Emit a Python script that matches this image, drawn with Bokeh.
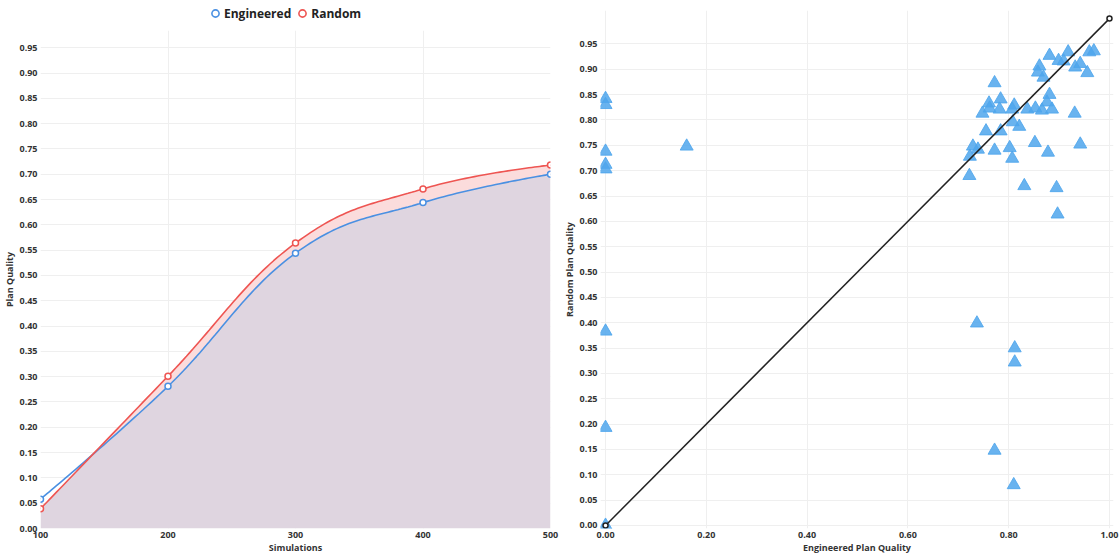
import numpy as np
from bokeh.plotting import figure
from bokeh.layouts import row, column
from bokeh.models import Legend, LegendItem, FixedTicker, NumeralTickFormatter, Range1d
from bokeh.embed import file_html
from bokeh.resources import INLINE

# ---- data ----
simulations = [100, 200, 300, 400, 500]
engineered = [0.058, 0.281, 0.544, 0.644, 0.700]
random_q = [0.039, 0.301, 0.564, 0.671, 0.718]

scatter_eng = [0.0, 0.0, 0.0, 0.0, 0.0, 0.0, 0.0, 0.0, 0.161,
               0.881, 0.918, 0.899, 0.909, 0.960, 0.969, 0.861, 0.858, 0.869,
               0.932, 0.942, 0.956, 0.772, 0.881, 0.784, 0.761, 0.876, 0.762,
               0.748, 0.782, 0.811, 0.807, 0.837, 0.853, 0.866, 0.886, 0.931,
               0.808, 0.821, 0.755, 0.784, 0.852, 0.942, 0.729, 0.739, 0.772,
               0.802, 0.878, 0.723, 0.807, 0.722, 0.831, 0.895, 0.897, 0.737,
               0.812, 0.812, 0.772, 0.810]
scatter_rand = [0.842, 0.830, 0.738, 0.712, 0.703, 0.383, 0.193, 0.000, 0.748,
                0.927, 0.934, 0.917, 0.916, 0.934, 0.936, 0.906, 0.894, 0.884,
                0.904, 0.911, 0.893, 0.873, 0.850, 0.841, 0.833, 0.835, 0.823,
                0.813, 0.821, 0.829, 0.821, 0.821, 0.823, 0.819, 0.821, 0.813,
                0.796, 0.787, 0.778, 0.778, 0.755, 0.752, 0.748, 0.742, 0.740,
                0.745, 0.736, 0.728, 0.724, 0.690, 0.670, 0.666, 0.614, 0.399,
                0.350, 0.322, 0.148, 0.080]
diag_x = [0.0, 1.0]
diag_y = [0.0, 1.0]

BLUE = "#4a90e2"
RED = "#ee5552"
TRI = "#4fa6ec"
FONT = "Open Sans"


def hc_spline(xs, ys, n=40):
    s = 1.5
    d = s + 1
    k = len(xs)
    lc = [(xs[i], ys[i]) for i in range(k)]
    rc = [(xs[i], ys[i]) for i in range(k)]
    for i in range(1, k - 1):
        lcx = (s * xs[i] + xs[i - 1]) / d
        lcy = (s * ys[i] + ys[i - 1]) / d
        rcx = (s * xs[i] + xs[i + 1]) / d
        rcy = (s * ys[i] + ys[i + 1]) / d
        if rcx != lcx:
            corr = (rcy - lcy) * (rcx - xs[i]) / (rcx - lcx) + ys[i] - rcy
            lcy += corr
            rcy += corr
        lc[i] = (lcx, lcy)
        rc[i] = (rcx, rcy)
    ox, oy = [], []
    t = np.linspace(0, 1, n)
    for i in range(k - 1):
        p0 = (xs[i], ys[i]); p1 = rc[i]; p2 = lc[i + 1]; p3 = (xs[i + 1], ys[i + 1])
        bx = (1 - t) ** 3 * p0[0] + 3 * (1 - t) ** 2 * t * p1[0] + 3 * (1 - t) * t ** 2 * p2[0] + t ** 3 * p3[0]
        by = (1 - t) ** 3 * p0[1] + 3 * (1 - t) ** 2 * t * p1[1] + 3 * (1 - t) * t ** 2 * p2[1] + t ** 3 * p3[1]
        if i > 0:
            bx = bx[1:]; by = by[1:]
        ox.extend(bx); oy.extend(by)
    return np.array(ox), np.array(oy)


def style(p):
    p.outline_line_color = None
    p.background_fill_color = "white"
    for ax in p.axis:
        ax.axis_line_color = None
        ax.major_tick_line_color = None
        ax.minor_tick_line_color = None
        ax.major_tick_out = 0
        ax.major_tick_in = 0
        ax.minor_tick_out = 0
        ax.minor_tick_in = 0
        ax.major_label_text_font = FONT
        ax.major_label_text_font_style = "bold"
        ax.major_label_text_font_size = "9px"
        ax.major_label_text_color = "#333333"
        ax.axis_label_text_font = FONT
        ax.axis_label_text_font_style = "bold"
        ax.axis_label_text_font_size = "9px"
        ax.axis_label_text_color = "#333333"
        ax.major_label_standoff = 3
        ax.axis_label_standoff = 0
    p.grid.grid_line_color = "#efefef"
    p.grid.grid_line_width = 1


# ---- legend strip ----
pl = figure(width=560, height=24, output_backend="svg", toolbar_location=None,
            x_range=Range1d(0, 1), y_range=Range1d(0, 1),
            min_border_top=0, min_border_right=0, min_border_bottom=0, min_border_left=0)
pl.axis.visible = False
pl.grid.visible = False
pl.outline_line_color = None
g_e = pl.scatter([5], [5], marker="circle", size=10, fill_color="white",
                 line_color=BLUE, line_width=1.6)
g_r = pl.scatter([5], [5], marker="circle", size=10, fill_color="white",
                 line_color=RED, line_width=1.6)
legend = Legend(items=[LegendItem(label="Engineered", renderers=[g_e]),
                       LegendItem(label="Random", renderers=[g_r])],
                orientation="horizontal", location=(166, 2))
legend.label_text_font = FONT
legend.label_text_font_style = "bold"
legend.label_text_font_size = "12px"
legend.label_text_color = "#222222"
legend.border_line_color = None
legend.background_fill_alpha = 0
legend.padding = 1
legend.margin = 0
legend.spacing = 2
legend.glyph_width = 18
legend.glyph_height = 18
legend.label_standoff = 0
legend.label_height = 14
pl.add_layout(legend)

# ---- left figure ----
p1 = figure(width=560, height=532, output_backend="svg", toolbar_location=None,
            x_range=Range1d(100, 500), y_range=Range1d(0, 0.984),
            min_border_top=6, min_border_right=10, min_border_bottom=0, min_border_left=0)
ex, ey = hc_spline(simulations, engineered)
rx, ry = hc_spline(simulations, random_q)
low = np.minimum(ey, ry)
p1.varea(x=ex, y1=0, y2=low, fill_color="#dfd5e0", fill_alpha=1)
p1.varea(x=ex, y1=low, y2=np.maximum(ry, low), fill_color="#fbdcdc", fill_alpha=1)
p1.line(ex, ey, line_color=BLUE, line_width=1.6)
p1.line(rx, ry, line_color=RED, line_width=1.6)
p1.scatter(simulations, engineered, marker="circle", size=6, fill_color="white",
           line_color=BLUE, line_width=1.5)
p1.scatter(simulations, random_q, marker="circle", size=6, fill_color="white",
           line_color=RED, line_width=1.5)
p1.xaxis.axis_label = "Simulations"
p1.yaxis.axis_label = "Plan Quality"
p1.xaxis.ticker = FixedTicker(ticks=simulations)
p1.yaxis.ticker = FixedTicker(ticks=[round(0.05 * i, 2) for i in range(20)])
p1.yaxis.formatter = NumeralTickFormatter(format="0.00")
style(p1)

# ---- right figure ----
p2 = figure(width=559, height=556, output_backend="svg", toolbar_location=None,
            x_range=Range1d(-0.01, 1.008), y_range=Range1d(-0.006, 1.016),
            min_border_top=10, min_border_right=6, min_border_bottom=0, min_border_left=0)
p2.scatter(scatter_eng, scatter_rand, marker="triangle", size=13, fill_color=TRI,
           fill_alpha=0.85, line_color=TRI, line_alpha=0.85)
p2.line(diag_x, diag_y, line_color="#222222", line_width=1.5)
p2.scatter(diag_x, diag_y, marker="circle", size=5, fill_color="white",
           line_color="#222222", line_width=1.5)
p2.xaxis.axis_label = "Engineered Plan Quality"
p2.yaxis.axis_label = "Random Plan Quality"
p2.xaxis.ticker = FixedTicker(ticks=[0.0, 0.2, 0.4, 0.6, 0.8, 1.0])
p2.xaxis.formatter = NumeralTickFormatter(format="0.00")
p2.yaxis.ticker = FixedTicker(ticks=[round(0.05 * i, 2) for i in range(20)])
p2.yaxis.formatter = NumeralTickFormatter(format="0.00")
style(p2)

layout = row(column(pl, p1, spacing=0), p2, spacing=0)
open("out.html", "w").write(file_html(layout, INLINE))
